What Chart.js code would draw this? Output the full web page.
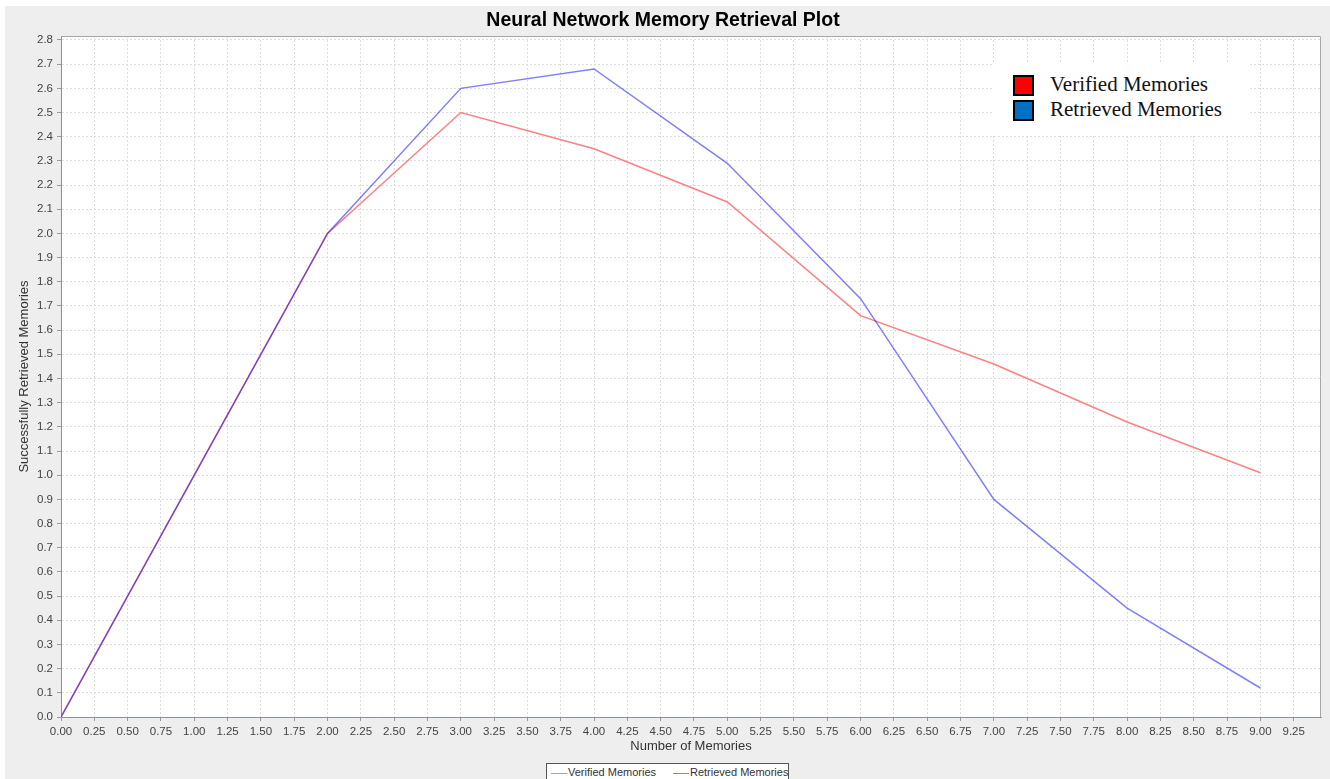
<!DOCTYPE html>
<html>
<head>
<meta charset="utf-8">
<script src="https://cdn.jsdelivr.net/npm/chart.js@4"></script>
<style>
  html, body { margin: 0; padding: 0; background: #fff; width: 1330px; height: 779px; overflow: hidden; }
  #frame { position: absolute; left: 5px; top: 6px; width: 1325px; height: 773px; background: #eeeeee; }
  #chart { position: absolute; left: 0; top: 0; }
  #keyBox {
    position: absolute; left: 993px; top: 64px; width: 255px; height: 72px; background: #fff;
    font-family: 'Liberation Serif', 'Times New Roman', serif; font-size: 21px; color: #111;
  }
  .key { position: absolute; left: 20px; height: 21px; }
  .key i { position: absolute; left: 0; top: 0; width: 17px; height: 17px; border: 2px solid #000; }
  .key span { position: absolute; left: 37px; top: -2px; white-space: nowrap; line-height: 23px; }
  #legend {
    position: absolute; left: 546px; top: 763px; width: 241px; height: 22px; background: #fff;
    border: 1px solid #555; font-family: 'Liberation Sans', Arial, sans-serif; font-size: 11px; color: #333;
  }
  #legend div { position: absolute; top: 2px; white-space: nowrap; }
  #legend b { display: inline-block; width: 16px; height: 1px; vertical-align: middle; margin-right: 1px; }
</style>
</head>
<body>
<div id="frame"><canvas id="chart" width="1325" height="773"></canvas></div>

<div id="keyBox">
  <div class="key" style="top:11px"><i style="background:#ff0000"></i><span>Verified Memories</span></div>
  <div class="key" style="top:36px"><i style="background:#0070c0"></i><span>Retrieved Memories</span></div>
</div>

<div id="legend">
  <div style="left:4px"><b style="background:#ff8080"></b>Verified Memories</div>
  <div style="left:126px"><b style="background:#8080ff"></b>Retrieved Memories</div>
</div>

<script>
const memoryCounts = [0, 1, 2, 3, 4, 5, 6, 7, 8, 9];
const verifiedMemories = [0, 1.0, 2.0, 2.5, 2.35, 2.13, 1.66, 1.46, 1.22, 1.01];
const retrievedMemories = [0, 1.0, 2.0, 2.6, 2.68, 2.29, 1.73, 0.90, 0.45, 0.12];

// axis ranges and tick spacing
const xTickStep = 0.25, xAxisMax = 9.455;
const yTickStep = 0.1, yAxisMax = 2.8165;

const sans = "'Liberation Sans', Arial, sans-serif";

function points(ys) {
  return memoryCounts.map((x, i) => ({ x: x, y: ys[i] }));
}

// white plot background plus the grey top/right frame
const plotFrame = {
  id: 'plotFrame',
  beforeDraw(chart) {
    const { ctx, chartArea: a } = chart;
    ctx.save();
    ctx.fillStyle = '#fff';
    ctx.fillRect(a.left, a.top, a.right - a.left, a.bottom - a.top);
    ctx.restore();
  },
  beforeDatasetsDraw(chart) {
    const { ctx, chartArea: a } = chart;
    ctx.save();
    ctx.strokeStyle = '#a8a8a8';
    ctx.lineWidth = 1;
    ctx.beginPath();
    ctx.moveTo(a.left, a.top + 0.5);
    ctx.lineTo(a.right - 0.5, a.top + 0.5);
    ctx.lineTo(a.right - 0.5, a.bottom);
    ctx.stroke();
    ctx.restore();
  }
};

new Chart(document.getElementById('chart'), {
  type: 'line',
  data: {
    datasets: [{
      label: 'Verified Memories',
      data: points(verifiedMemories),
      borderColor: '#ff8080',
      borderWidth: 1.5,
      pointRadius: 0,
      tension: 0,
      order: 1
    }, {
      label: 'Retrieved Memories',
      data: points(retrievedMemories),
      borderColor: 'rgba(0, 0, 255, 0.5)',
      borderWidth: 1.5,
      pointRadius: 0,
      tension: 0,
      order: 0
    }]
  },
  options: {
    responsive: false,
    animation: false,
    layout: { padding: { left: 0, right: 9, top: 0, bottom: 0 } },
    plugins: {
      legend: { display: false },
      tooltip: { enabled: false },
      title: {
        display: true,
        text: 'Neural Network Memory Retrieval Plot',
        color: '#000',
        font: { family: sans, size: 19.5, weight: 'bold' },
        padding: { top: 3, bottom: 3.6 }
      }
    },
    scales: {
      x: {
        type: 'linear',
        min: 0,
        max: xAxisMax,
        afterFit(scale) { scale.height = 62; },
        title: {
          display: true,
          text: 'Number of Memories',
          color: '#333',
          font: { family: sans, size: 13 },
          padding: { top: 0, bottom: 25 }
        },
        ticks: {
          stepSize: xTickStep,
          includeBounds: false,
          autoSkip: false,
          maxRotation: 0,
          padding: 4,
          color: '#444',
          font: { family: sans, size: 11.5 },
          callback: v => Number(v).toFixed(2)
        },
        grid: { color: '#dcdcdc', tickColor: '#999', tickLength: 4 },
        border: { display: true, color: '#8c8cac', dash: [2, 2] }
      },
      y: {
        type: 'linear',
        min: 0,
        max: yAxisMax,
        afterFit(scale) { scale.width = 56; },
        title: {
          display: true,
          text: 'Successfully Retrieved Memories',
          color: '#333',
          font: { family: sans, size: 13 },
          padding: { top: 12, bottom: 0 }
        },
        ticks: {
          stepSize: yTickStep,
          includeBounds: false,
          autoSkip: false,
          padding: 4,
          color: '#444',
          font: { family: sans, size: 11.5 },
          callback: v => Number(v).toFixed(1)
        },
        grid: { color: '#dcdcdc', tickColor: '#999', tickLength: 4 },
        border: { display: true, color: '#8c8cac', dash: [2, 2] }
      }
    }
  },
  plugins: [plotFrame]
});
</script>
</body>
</html>
